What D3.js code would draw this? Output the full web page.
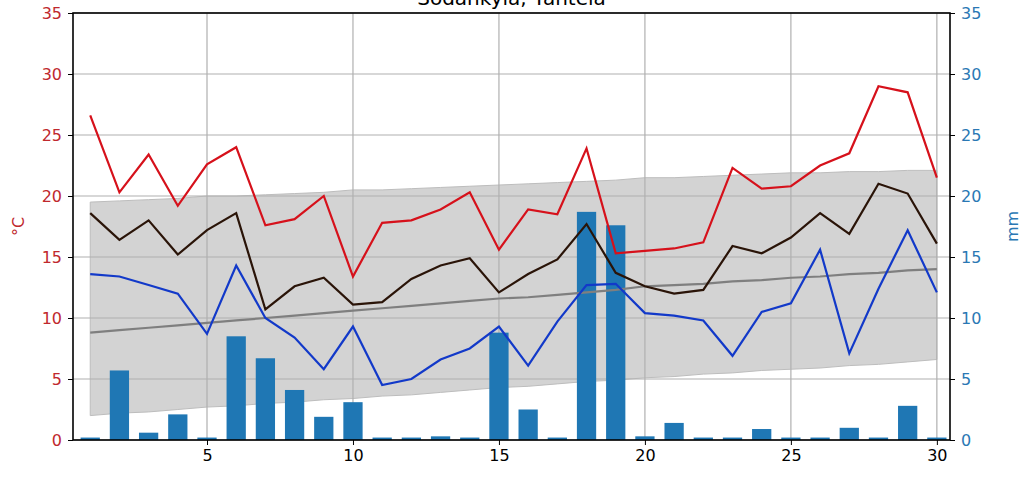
<!DOCTYPE html>
<html>
<head>
<meta charset="utf-8">
<script src="https://cdn.jsdelivr.net/npm/d3@7"></script>
<style>
  body { margin: 0; background: #fff; }
  text { font-family: "DejaVu Sans", sans-serif; }
</style>
</head>
<body>
<div id="chart"></div>
<script>
const title = "Sodankylä, Tähtelä";
const days = d3.range(1, 31);
const tMax = [26.6,20.3,23.4,19.2,22.6,24.0,17.6,18.1,20.0,13.4,17.8,18.0,18.9,20.3,15.6,
              18.9,18.5,23.9,15.3,15.5,15.7,16.2,22.3,20.6,20.8,22.5,23.5,29.0,28.5,21.5];
const tMean = [18.6,16.4,18.0,15.2,17.2,18.6,10.7,12.6,13.3,11.1,11.3,13.2,14.3,14.9,12.1,
               13.6,14.8,17.7,13.7,12.6,12.0,12.3,15.9,15.3,16.6,18.6,16.9,21.0,20.2,16.1];
const tMin = [13.6,13.4,12.7,12.0,8.7,14.3,10.0,8.4,5.8,9.3,4.5,5.0,6.6,7.5,9.3,
              6.1,9.7,12.7,12.8,10.4,10.2,9.8,6.9,10.5,11.2,15.6,7.1,12.4,17.2,12.1];
const precip = [0.2,5.7,0.6,2.1,0.2,8.5,6.7,4.1,1.9,3.1,0.2,0.2,0.3,0.2,8.8,
                2.5,0.2,18.7,17.6,0.3,1.4,0.2,0.2,0.9,0.2,0.2,1.0,0.2,2.8,0.2];
// climatology band and mean
const climHigh = [19.5,19.6,19.7,19.8,20.0,20.0,20.1,20.2,20.3,20.5,20.5,20.6,20.7,20.8,20.9,
                  21.0,21.1,21.2,21.3,21.5,21.5,21.6,21.7,21.8,21.9,21.9,22.0,22.0,22.1,22.1];
const climLow = [2.0,2.2,2.3,2.5,2.7,2.8,3.0,3.1,3.3,3.4,3.6,3.7,3.9,4.1,4.3,
                 4.4,4.6,4.8,4.9,5.1,5.2,5.4,5.5,5.7,5.8,5.9,6.1,6.2,6.4,6.6];
const climMean = [8.8,9.0,9.2,9.4,9.6,9.8,10.0,10.2,10.4,10.6,10.8,11.0,11.2,11.4,11.6,
                  11.7,11.9,12.1,12.3,12.6,12.7,12.8,13.0,13.1,13.3,13.4,13.6,13.7,13.9,14.0];
const xTicks = [5, 10, 15, 20, 25, 30];
const yTicks = [0, 5, 10, 15, 20, 25, 30, 35];

const width = 1034, height = 484;
const margin = {top: 13, right: 84, bottom: 44, left: 73};
const visWidth = width - margin.left - margin.right;
const visHeight = height - margin.top - margin.bottom;

const svg = d3.select("#chart").append("svg")
    .attr("width", width)
    .attr("height", height);

const g = svg.append("g")
    .attr("transform", `translate(${margin.left},${margin.top})`);

const x = d3.scaleLinear().domain([0.41, 30.45]).range([0, visWidth]);
const y = d3.scaleLinear().domain([0, 35]).range([visHeight, 0]);
const y2 = d3.scaleLinear().domain([0, 35]).range([visHeight, 0]);

const band = days.map((d, i) => ({d, lo: climLow[i], hi: climHigh[i]}));

// climatology band
g.append("path")
    .datum(band)
    .attr("fill", "#d3d3d3")
    .attr("stroke", "#bdbdbd")
    .attr("stroke-width", 1)
    .attr("d", d3.area().x(d => x(d.d)).y0(d => y(d.lo)).y1(d => y(d.hi)));

// grid
g.append("g")
    .selectAll("line.hg")
    .data(yTicks)
    .join("line")
      .attr("x1", 0).attr("x2", visWidth)
      .attr("y1", d => y(d)).attr("y2", d => y(d))
      .attr("stroke", "#b0b0b0").attr("stroke-width", 1.2);
g.append("g")
    .selectAll("line.vg")
    .data(xTicks)
    .join("line")
      .attr("x1", d => x(d)).attr("x2", d => x(d))
      .attr("y1", 0).attr("y2", visHeight)
      .attr("stroke", "#b0b0b0").attr("stroke-width", 1.2);

// precipitation bars
const bw = 0.66;
g.append("g")
    .attr("fill", "#1f77b4")
    .selectAll("rect")
    .data(days)
    .join("rect")
      .attr("x", d => x(d - bw / 2))
      .attr("width", x(bw) - x(0))
      .attr("y", (d, i) => y2(precip[i]))
      .attr("height", (d, i) => y2(0) - y2(precip[i]));

const line = d3.line().x((v, i) => x(days[i])).y(v => y(v));

g.append("path").datum(climMean)
    .attr("fill", "none").attr("stroke", "#7f7f7f").attr("stroke-width", 2.2)
    .attr("d", line);
g.append("path").datum(tMin)
    .attr("fill", "none").attr("stroke", "#1239c9").attr("stroke-width", 2.2)
    .attr("d", line);
g.append("path").datum(tMean)
    .attr("fill", "none").attr("stroke", "#2a1408").attr("stroke-width", 2.2)
    .attr("d", line);
g.append("path").datum(tMax)
    .attr("fill", "none").attr("stroke", "#d6111b").attr("stroke-width", 2.2)
    .attr("d", line);

// axes
const xAxis = d3.axisBottom(x).tickValues(xTicks).tickSize(5).tickPadding(5);
const yAxis = d3.axisLeft(y).tickValues(yTicks).tickSize(5).tickPadding(6);
const yAxis2 = d3.axisRight(y2).tickValues(yTicks).tickSize(5).tickPadding(6);

g.append("g")
    .attr("transform", `translate(0,${visHeight})`)
    .call(xAxis)
    .call(a => a.selectAll("text").attr("font-size", 16).attr("fill", "#000"))
    .call(a => a.selectAll(".domain").remove());

g.append("g")
    .call(yAxis)
    .call(a => a.selectAll("text").attr("font-size", 16).attr("fill", "#c0282d"))
    .call(a => a.selectAll(".domain").remove());

g.append("g")
    .attr("transform", `translate(${visWidth},0)`)
    .call(yAxis2)
    .call(a => a.selectAll("text").attr("font-size", 16).attr("fill", "#2a78b4"))
    .call(a => a.selectAll(".domain").remove());

// frame
g.append("rect")
    .attr("width", visWidth).attr("height", visHeight)
    .attr("fill", "none").attr("stroke", "#000").attr("stroke-width", 1.6);

// labels
svg.append("text")
    .attr("transform", `translate(24,${margin.top + visHeight / 2}) rotate(-90)`)
    .attr("text-anchor", "middle")
    .attr("font-size", 16)
    .attr("fill", "#c0282d")
    .text("°C");

svg.append("text")
    .attr("transform", `translate(1018,${margin.top + visHeight / 2}) rotate(-90)`)
    .attr("text-anchor", "middle")
    .attr("font-size", 16)
    .attr("fill", "#2a78b4")
    .text("mm");

svg.append("text")
    .attr("x", margin.left + visWidth / 2)
    .attr("y", 5)
    .attr("text-anchor", "middle")
    .attr("font-size", 20)
    .attr("fill", "#000")
    .text(title);
</script>
</body>
</html>
